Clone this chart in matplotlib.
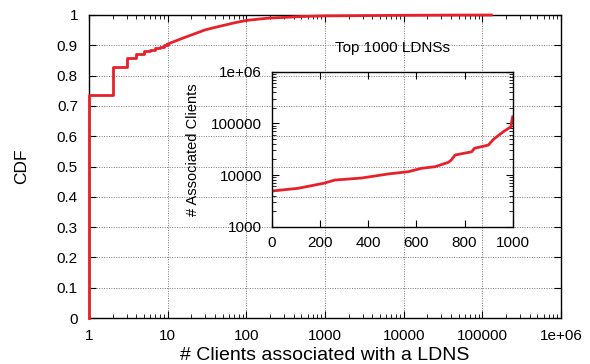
import numpy as np
import matplotlib
matplotlib.use("Agg")
import matplotlib.pyplot as plt
from matplotlib.ticker import LogLocator, NullFormatter, FixedLocator

plt.rcParams['font.family'] = ['Liberation Sans', 'DejaVu Sans']

# Main CDF: discrete steps for small counts, then smooth tail
step_clients = [1, 1, 2, 3, 4, 5, 6, 7, 8, 9, 10]
step_cdf = [0.0, 0.735, 0.827, 0.857, 0.872, 0.880, 0.886, 0.891, 0.896, 0.900, 0.904]
tail_clients = [10, 15, 20, 30, 40, 50, 70, 100, 150, 200, 300, 500, 1000, 3000, 10000, 30000, 130000]
tail_cdf = [0.904, 0.922, 0.934, 0.951, 0.959, 0.965, 0.974, 0.982, 0.987, 0.990, 0.992, 0.995,
            0.997, 0.998, 0.999, 0.9995, 1.0]

# Inset: clients for top 1000 LDNSs
rank = [0, 110, 214, 263, 373, 484, 567, 622, 678, 733, 745, 761, 830, 841, 899, 920, 961, 993, 996, 1000]
assoc = [4900, 5540, 6900, 8000, 8750, 10500, 11600, 13500, 14500, 17600, 19500, 24400, 28200, 32900,
         38000, 49000, 69000, 86000, 110000, 134000]

x_ticks = [1, 10, 100, 1000, 10000, 100000, 1000000]
x_ticklabels = ['1', '10', '100', '1000', '10000', '100000', '1e+06']
y_ticks = [0, 0.1, 0.2, 0.3, 0.4, 0.5, 0.6, 0.7, 0.8, 0.9, 1]
y_ticklabels = ['0', '0.1', '0.2', '0.3', '0.4', '0.5', '0.6', '0.7', '0.8', '0.9', '1']
ins_x_ticks = [0, 200, 400, 600, 800, 1000]
ins_y_ticks = [1000, 10000, 100000, 1000000]
ins_y_ticklabels = ['1000', '10000', '100000', '1e+06']

RED = '#e8202a'

fig = plt.figure(figsize=(5.9, 3.64), dpi=100)
ax = fig.add_axes([89/590, 1-318/364, (561-89)/590, (318-15)/364])

ax.plot(step_clients, step_cdf, color=RED, lw=2, drawstyle='steps-post', clip_on=False, zorder=3)
ax.plot(tail_clients, tail_cdf, color=RED, lw=2, clip_on=False, zorder=3)

ax.set_xscale('log')
ax.set_xlim(1, 1e6)
ax.set_ylim(0, 1)
ax.set_xticks(x_ticks)
ax.set_xticklabels(x_ticklabels)
ax.xaxis.set_minor_locator(LogLocator(base=10, subs=np.arange(2, 10), numticks=20))
ax.xaxis.set_minor_formatter(NullFormatter())
ax.set_yticks(y_ticks)
ax.set_yticklabels(y_ticklabels)
ax.tick_params(which='both', direction='in', top=True, right=True, labelsize=11, pad=8)
ax.tick_params(which='major', length=5, width=0.8)
ax.tick_params(which='minor', length=3, width=0.6)
ax.grid(True, which='major', linestyle=(0, (1, 1.5)), color='#777777', linewidth=0.7)
for s in ax.spines.values():
    s.set_linewidth(1.0)
ax.set_xlabel('# Clients associated with a LDNS', fontsize=14, labelpad=3)
ax.set_ylabel('CDF', fontsize=12.5, labelpad=20)

# Inset
ins = fig.add_axes([271.7/590, 1-226.7/364, 241/590, 155/364])
ins.patch.set_alpha(0)
ins.plot(rank, assoc, color=RED, lw=2)
ins.set_yscale('log')
ins.set_xlim(0, 1000)
ins.set_ylim(1000, 1e6)
ins.xaxis.set_major_locator(FixedLocator(ins_x_ticks))
ins.set_yticks(ins_y_ticks)
ins.set_yticklabels(ins_y_ticklabels)
ins.yaxis.set_minor_locator(LogLocator(base=10, subs=np.arange(2, 10), numticks=20))
ins.yaxis.set_minor_formatter(NullFormatter())
ins.tick_params(which='both', direction='in', top=True, right=True, labelsize=11, pad=7)
ins.tick_params(which='major', length=5, width=0.8)
ins.tick_params(which='minor', length=3, width=0.6)
for s in ins.spines.values():
    s.set_linewidth(1.0)
ins.set_title('Top 1000 LDNSs', fontsize=11, pad=14)
ins.set_ylabel('# Associated Clients', fontsize=10.5, labelpad=8)

fig.savefig('out.png', dpi=100)
